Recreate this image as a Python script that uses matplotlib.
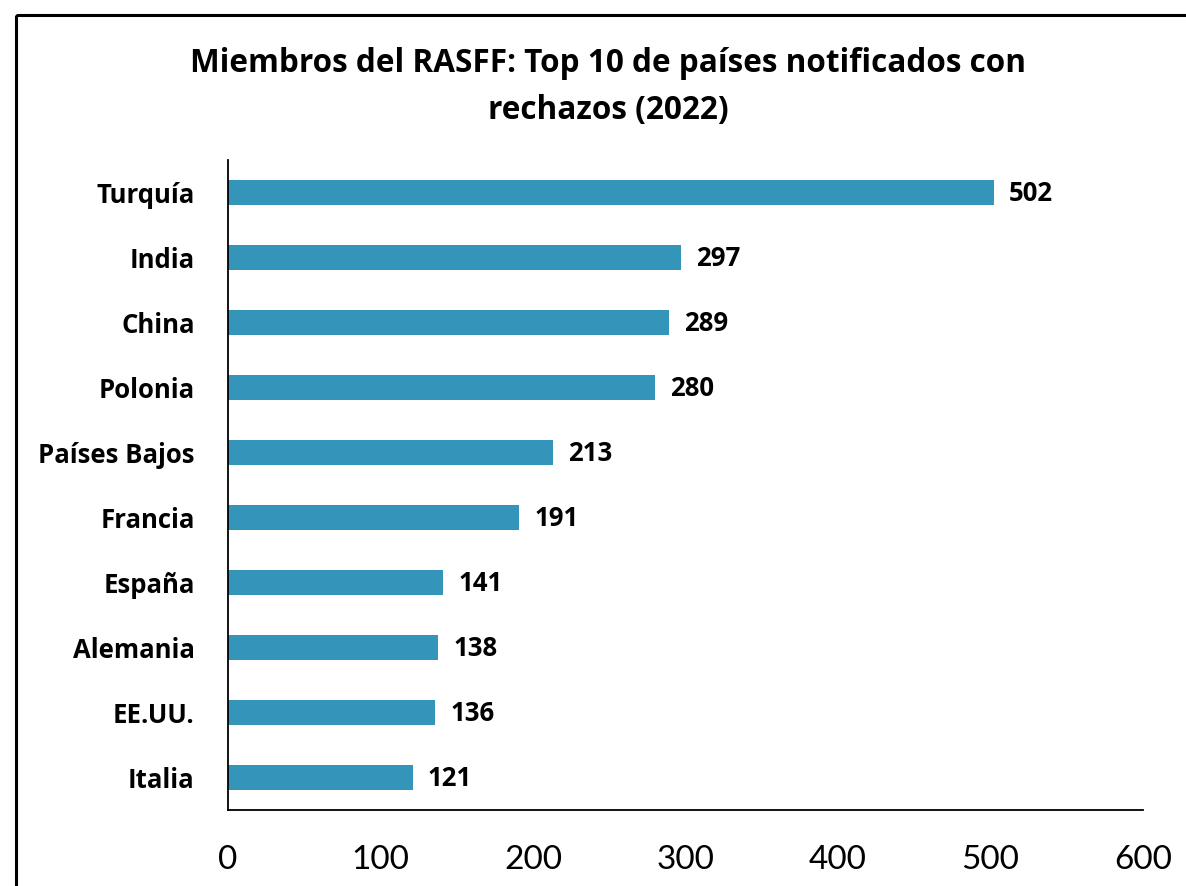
import matplotlib
matplotlib.use('Agg')
import matplotlib.pyplot as plt
from matplotlib.patches import Rectangle

# Datos (de arriba hacia abajo en el gráfico)
paises = ['Turquía', 'India', 'China', 'Polonia', 'Países Bajos',
          'Francia', 'España', 'Alemania', 'EE.UU.', 'Italia']
rechazos = [502, 297, 289, 280, 213, 191, 141, 138, 136, 121]
ticks_x = [0, 100, 200, 300, 400, 500, 600]

color_barra = '#3494BA'
plt.rcParams['font.family'] = ['Open Sans', 'DejaVu Sans']

W, H = 1186, 886
fig = plt.figure(figsize=(W / 100, H / 100), dpi=100)

# marco exterior del gráfico (cortado a la derecha y abajo)
fig.patches.append(Rectangle((16 / W, 1 - 15 / H), 1.2, -1.2, transform=fig.transFigure,
                             fill=False, edgecolor='black', linewidth=2.2))

ax = fig.add_axes([228 / W, 1 - 810 / H, (1143 - 228) / W, (810 - 160) / H])

pos = list(range(len(paises)))[::-1]
ax.barh(pos, rechazos, height=0.37, color=color_barra, edgecolor='none')

for p, v in zip(pos, rechazos):
    ax.annotate(str(v), (v, p), xytext=(11, -1), textcoords='offset points',
                va='center', ha='left', fontsize=18.5, fontweight='bold')

ax.set_xlim(0, 600)
ax.set_ylim(-0.5, len(paises) - 0.5)
ax.set_xticks(ticks_x)
ax.set_xticklabels([str(t) for t in ticks_x], fontsize=24, family=['Lato', 'DejaVu Sans'])
ax.set_yticks(pos)
ax.set_yticklabels(paises, fontsize=18.5, fontweight='bold')
ax.tick_params(axis='both', length=0)
ax.tick_params(axis='y', pad=24)
ax.tick_params(axis='x', pad=25)

for s in ['top', 'right']:
    ax.spines[s].set_visible(False)
ax.spines['left'].set_linewidth(1.3)
ax.spines['bottom'].set_linewidth(1.3)

fig.text(608 / W, 1 - 87 / H,
         'Miembros del RASFF: Top 10 de países notificados con\nrechazos (2022)',
         ha='center', va='center', fontsize=22.7, fontweight='bold', linespacing=1.55)

fig.savefig('out.png', dpi=100)
